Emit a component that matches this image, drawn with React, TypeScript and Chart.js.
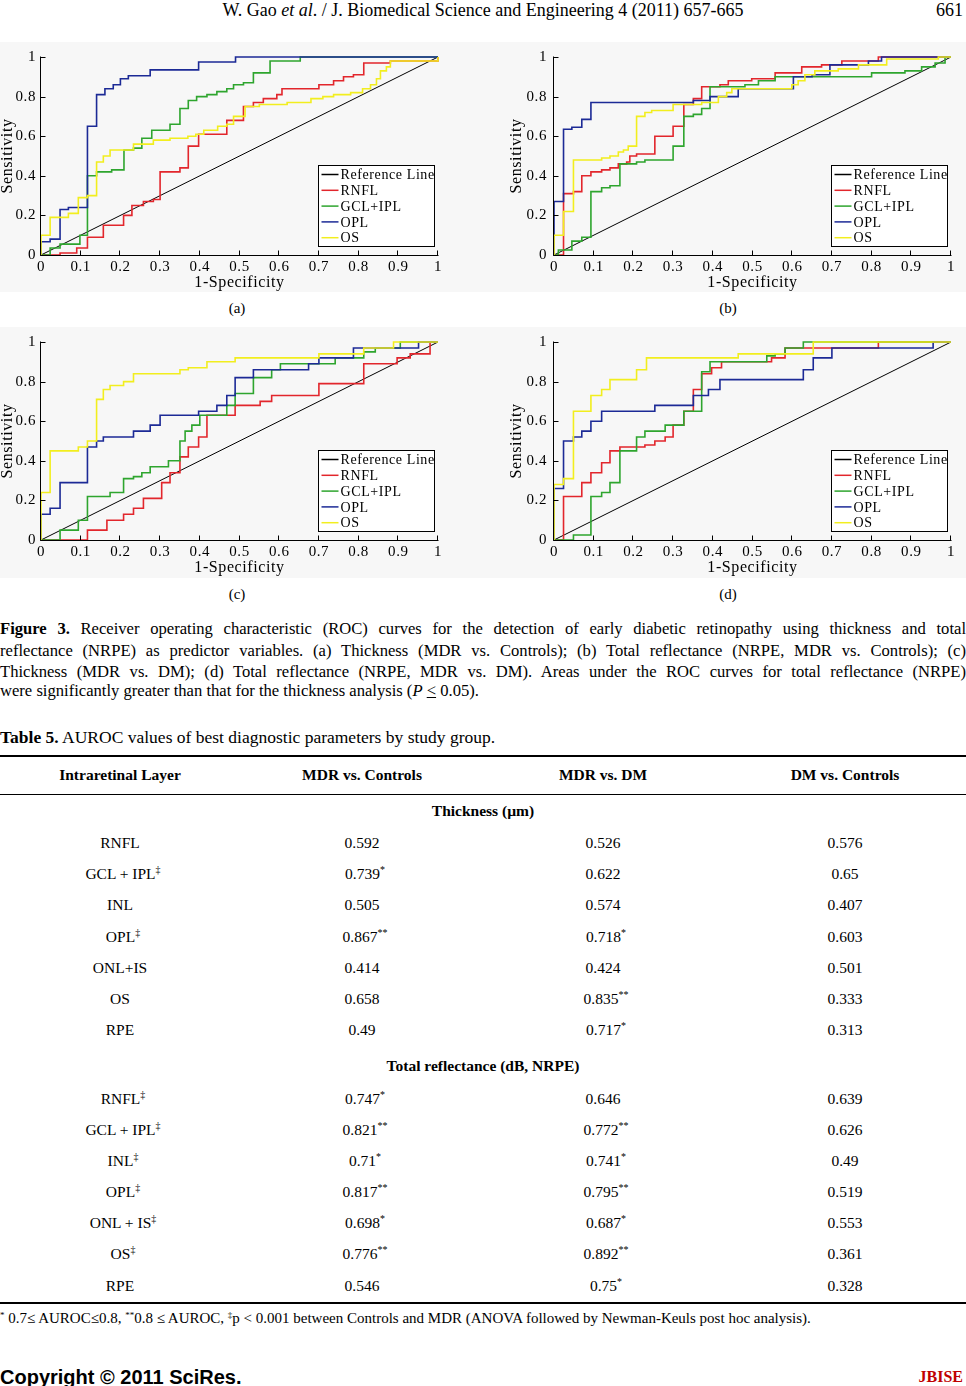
import React, { useEffect, useRef } from 'react';
import { Chart, registerables } from 'chart.js';

Chart.register(...registerables);

// ---------- chart data ----------
const SERIES_NAMES = ['Reference Line', 'RNFL', 'GCL+IPL', 'OPL', 'OS'];
const SERIES_COLORS = ['#000000', '#e2262c', '#2ea52e', '#1c2a96', '#f2ee1e'];
const X_TICK_LABELS = ['0', '0.1', '0.2', '0.3', '0.4', '0.5', '0.6', '0.7', '0.8', '0.9', '1'];
const Y_TICK_LABELS = ['0', '0.2', '0.4', '0.6', '0.8', '1'];
const X_TITLE = '1-Specificity';
const Y_TITLE = 'Sensitivity';

const REF_FPR = [0, 1];
const REF_TPR = [0, 1];

// (a) Thickness, MDR vs. Controls
const A_RNFL_FPR = [0, 0.048, 0.09, 0.117, 0.157, 0.208, 0.229, 0.258, 0.283, 0.3, 0.35, 0.371, 0.397, 0.468, 0.51, 0.535, 0.56, 0.594, 0.607, 0.7, 0.737, 0.762, 0.787, 0.813, 0.88, 1];
const A_RNFL_TPR = [0, 0.01, 0.035, 0.09, 0.15, 0.2, 0.25, 0.27, 0.28, 0.42, 0.44, 0.55, 0.61, 0.68, 0.75, 0.77, 0.79, 0.81, 0.84, 0.86, 0.88, 0.9, 0.91, 0.97, 0.98, 1];
const A_GCL_FPR = [0, 0.023, 0.048, 0.098, 0.117, 0.14, 0.178, 0.209, 0.233, 0.254, 0.279, 0.325, 0.35, 0.371, 0.392, 0.418, 0.443, 0.468, 0.485, 0.51, 0.535, 0.577, 0.653, 1];
const A_GCL_TPR = [0, 0.035, 0.055, 0.1, 0.4, 0.42, 0.43, 0.53, 0.54, 0.59, 0.63, 0.66, 0.74, 0.78, 0.8, 0.81, 0.825, 0.84, 0.86, 0.87, 0.92, 0.98, 1, 1];
const A_OPL_FPR = [0, 0, 0.023, 0.048, 0.069, 0.117, 0.14, 0.161, 0.182, 0.2, 0.22, 0.275, 0.397, 0.49, 1];
const A_OPL_TPR = [0, 0.067, 0.08, 0.23, 0.24, 0.65, 0.81, 0.84, 0.86, 0.89, 0.905, 0.935, 0.975, 1, 1];
const A_OS_FPR = [0, 0, 0.023, 0.069, 0.094, 0.117, 0.14, 0.157, 0.174, 0.233, 0.283, 0.325, 0.37, 0.39, 0.41, 0.445, 0.468, 0.485, 0.514, 0.55, 0.62, 0.68, 0.71, 0.737, 0.78, 0.81, 0.83, 0.845, 0.855, 0.87, 0.88, 1];
const A_OS_TPR = [0, 0.1, 0.19, 0.21, 0.29, 0.3, 0.47, 0.5, 0.53, 0.56, 0.58, 0.59, 0.6, 0.61, 0.63, 0.65, 0.66, 0.7, 0.75, 0.76, 0.77, 0.79, 0.8, 0.81, 0.82, 0.84, 0.86, 0.89, 0.93, 0.95, 0.98, 1];

// (b) Total reflectance, MDR vs. Controls
const B_RNFL_FPR = [0, 0.024, 0.049, 0.07, 0.093, 0.12, 0.141, 0.162, 0.183, 0.191, 0.208, 0.254, 0.3, 0.327, 0.351, 0.372, 0.418, 0.439, 0.498, 0.557, 0.624, 0.674, 0.725, 0.817, 1];
const B_RNFL_TPR = [0, 0.31, 0.32, 0.4, 0.42, 0.43, 0.44, 0.46, 0.47, 0.5, 0.51, 0.6, 0.65, 0.76, 0.79, 0.85, 0.86, 0.88, 0.89, 0.92, 0.95, 0.96, 0.98, 1, 1];
const B_GCL_FPR = [0, 0.011, 0.045, 0.07, 0.093, 0.12, 0.141, 0.166, 0.208, 0.229, 0.3, 0.327, 0.351, 0.372, 0.393, 0.481, 0.515, 0.557, 0.8, 0.884, 0.926, 0.96, 0.985, 1];
const B_GCL_TPR = [0, 0.025, 0.07, 0.09, 0.32, 0.34, 0.35, 0.46, 0.47, 0.48, 0.55, 0.7, 0.71, 0.74, 0.85, 0.86, 0.88, 0.9, 0.92, 0.93, 0.95, 0.97, 1, 1];
const B_OPL_FPR = [0, 0, 0.024, 0.045, 0.07, 0.093, 0.351, 0.393, 0.464, 0.603, 0.65, 0.695, 0.792, 0.825, 1];
const B_OPL_TPR = [0, 0.27, 0.635, 0.645, 0.685, 0.77, 0.78, 0.8, 0.84, 0.9, 0.91, 0.96, 0.98, 1, 1];
const B_OS_FPR = [0, 0, 0.024, 0.049, 0.12, 0.141, 0.162, 0.175, 0.187, 0.208, 0.229, 0.246, 0.3, 0.372, 0.414, 0.435, 0.448, 0.599, 0.615, 0.632, 0.657, 0.716, 0.767, 0.838, 0.968, 1];
const B_OS_TPR = [0, 0.1, 0.22, 0.48, 0.49, 0.5, 0.52, 0.53, 0.55, 0.7, 0.72, 0.73, 0.76, 0.77, 0.8, 0.82, 0.84, 0.86, 0.88, 0.91, 0.93, 0.94, 0.96, 0.99, 1, 1];

// (c) Thickness, MDR vs. DM
const C_RNFL_FPR = [0, 0.117, 0.166, 0.208, 0.233, 0.258, 0.304, 0.325, 0.35, 0.371, 0.397, 0.418, 0.489, 0.552, 0.581, 0.7, 0.813, 0.897, 0.93, 0.98, 1];
const C_RNFL_TPR = [0, 0.05, 0.1, 0.13, 0.16, 0.21, 0.29, 0.34, 0.42, 0.47, 0.52, 0.63, 0.68, 0.7, 0.73, 0.79, 0.89, 0.92, 0.94, 1, 1];
const C_GCL_FPR = [0, 0.048, 0.094, 0.117, 0.174, 0.208, 0.233, 0.254, 0.275, 0.321, 0.35, 0.363, 0.38, 0.4, 0.468, 0.489, 0.535, 0.581, 0.603, 0.741, 0.813, 0.842, 0.905, 1];
const C_GCL_TPR = [0, 0.05, 0.1, 0.22, 0.24, 0.31, 0.32, 0.34, 0.37, 0.4, 0.5, 0.55, 0.58, 0.63, 0.68, 0.74, 0.82, 0.86, 0.89, 0.92, 0.95, 0.97, 1, 1];
const C_OPL_FPR = [0, 0, 0.023, 0.048, 0.117, 0.14, 0.157, 0.233, 0.275, 0.3, 0.397, 0.443, 0.468, 0.489, 0.535, 0.674, 0.7, 0.787, 0.951, 1];
const C_OPL_TPR = [0, 0.13, 0.16, 0.29, 0.47, 0.5, 0.52, 0.55, 0.58, 0.63, 0.65, 0.68, 0.73, 0.82, 0.86, 0.89, 0.92, 0.97, 1, 1];
const C_OS_FPR = [0, 0, 0.023, 0.094, 0.117, 0.14, 0.157, 0.174, 0.208, 0.233, 0.35, 0.371, 0.418, 0.489, 0.7, 0.813, 0.888, 1];
const C_OS_TPR = [0, 0.24, 0.45, 0.47, 0.5, 0.71, 0.76, 0.78, 0.8, 0.84, 0.86, 0.87, 0.9, 0.92, 0.94, 0.97, 1, 1];

// (d) Total reflectance, MDR vs. DM
const D_RNFL_FPR = [0, 0.024, 0.07, 0.093, 0.12, 0.141, 0.166, 0.229, 0.254, 0.28, 0.3, 0.327, 0.351, 0.372, 0.397, 0.422, 0.548, 0.582, 0.817, 1];
const D_RNFL_TPR = [0, 0.22, 0.29, 0.34, 0.39, 0.45, 0.47, 0.48, 0.5, 0.52, 0.58, 0.65, 0.76, 0.84, 0.87, 0.9, 0.92, 0.97, 1, 1];
const D_GCL_FPR = [0, 0.049, 0.093, 0.12, 0.141, 0.166, 0.208, 0.229, 0.28, 0.327, 0.372, 0.393, 0.536, 0.557, 0.582, 0.628, 1];
const D_GCL_TPR = [0, 0.025, 0.22, 0.24, 0.29, 0.45, 0.52, 0.55, 0.58, 0.65, 0.85, 0.9, 0.93, 0.94, 0.97, 1, 1];
const D_OPL_FPR = [0, 0, 0.024, 0.049, 0.07, 0.093, 0.12, 0.254, 0.351, 0.389, 0.418, 0.628, 0.653, 0.7, 0.955, 1];
const D_OPL_TPR = [0, 0.26, 0.5, 0.52, 0.55, 0.6, 0.65, 0.68, 0.73, 0.76, 0.81, 0.86, 0.92, 0.97, 1, 1];
const D_OS_FPR = [0, 0, 0.024, 0.049, 0.093, 0.12, 0.141, 0.208, 0.233, 0.464, 0.653, 1];
const D_OS_TPR = [0, 0.28, 0.31, 0.65, 0.73, 0.76, 0.81, 0.86, 0.92, 0.94, 1, 1];

// ---------- table data ----------
const TABLE_HEADERS = ['Intraretinal Layer', 'MDR vs. Controls', 'MDR vs. DM', 'DM vs. Controls'];
const THICK_TITLE = 'Thickness (µm)';
const THICK_LAYERS = ['RNFL', 'GCL + IPL‡', 'INL', 'OPL‡', 'ONL+IS', 'OS', 'RPE'];
const THICK_MDR_CTRL = ['0.592', '0.739*', '0.505', '0.867**', '0.414', '0.658', '0.49'];
const THICK_MDR_DM = ['0.526', '0.622', '0.574', '0.718*', '0.424', '0.835**', '0.717*'];
const THICK_DM_CTRL = ['0.576', '0.65', '0.407', '0.603', '0.501', '0.333', '0.313'];
const REFL_TITLE = 'Total reflectance (dB, NRPE)';
const REFL_LAYERS = ['RNFL‡', 'GCL + IPL‡', 'INL‡', 'OPL‡', 'ONL + IS‡', 'OS‡', 'RPE'];
const REFL_MDR_CTRL = ['0.747*', '0.821**', '0.71*', '0.817**', '0.698*', '0.776**', '0.546'];
const REFL_MDR_DM = ['0.646', '0.772**', '0.741*', '0.795**', '0.687*', '0.892**', '0.75*'];
const REFL_DM_CTRL = ['0.639', '0.626', '0.49', '0.519', '0.553', '0.361', '0.328'];

const SERIF = '"Liberation Serif", "Times New Roman", serif';
const SANS = '"Liberation Sans", Arial, sans-serif';

type Curve = { fpr: number[]; tpr: number[] };

const decorPlugin = {
  id: 'rocDecor',
  beforeDraw(chart: any) {
    try { chart.ctx.letterSpacing = '0.6px'; } catch (e) {}
  },
  afterDatasetsDraw(chart: any) {
    const { ctx, chartArea: ca, scales } = chart;
    const xs = scales.x;
    const ys = scales.y;
    ctx.save();
    ctx.strokeStyle = '#000';
    ctx.lineWidth = 1;
    ctx.beginPath();
    const bx = Math.round(ca.bottom) + 0.5;
    const lx = Math.round(ca.left) - 0.5;
    ctx.moveTo(lx, bx);
    ctx.lineTo(ca.right + 0.5, bx);
    ctx.moveTo(lx, bx);
    ctx.lineTo(lx, ca.top - 0.5);
    xs.ticks.forEach((t: any) => {
      const px = Math.round(xs.getPixelForValue(t.value)) - 0.5;
      ctx.moveTo(px, bx);
      ctx.lineTo(px, bx - 5);
    });
    ys.ticks.forEach((t: any) => {
      const py = Math.round(ys.getPixelForValue(t.value)) + 0.5;
      ctx.moveTo(lx, py);
      ctx.lineTo(lx + 5, py);
    });
    ctx.stroke();

    // legend box inside the plot
    const bw = 116;
    const bh = 81;
    const x0 = Math.round(ca.right - 4 - bw) + 0.5;
    const y0 = Math.round(ca.bottom - 9 - bh) + 0.5;
    ctx.fillStyle = '#ffffff';
    ctx.fillRect(x0, y0, bw, bh);
    ctx.strokeStyle = '#000';
    ctx.lineWidth = 1;
    ctx.strokeRect(x0, y0, bw, bh);
    ctx.font = `14px ${SERIF}`;
    ctx.textBaseline = 'middle';
    ctx.textAlign = 'left';
    chart.data.datasets.forEach((ds: any, i: number) => {
      const cy = y0 + 9 + i * 15.8;
      ctx.strokeStyle = ds.borderColor;
      ctx.lineWidth = 1.5;
      ctx.beginPath();
      ctx.moveTo(x0 + 3, cy);
      ctx.lineTo(x0 + 20, cy);
      ctx.stroke();
      ctx.fillStyle = '#000';
      ctx.fillText(ds.label, x0 + 22, cy + 1);
    });
    ctx.restore();
  },
};

function RocChart(props: { curves: Curve[]; left: number; top: number; width: number; height: number; axisW: number; plotRight: number; tickPad: number; yTitlePad: number }) {
  const ref = useRef<HTMLCanvasElement>(null);
  const { curves, left, top, width, height, axisW, plotRight, tickPad, yTitlePad } = props;
  useEffect(() => {
    const datasets = curves.map((c, i) => ({
      label: SERIES_NAMES[i],
      data: c.fpr.map((x, j) => ({ x, y: c.tpr[j] })),
      borderColor: SERIES_COLORS[i],
      backgroundColor: SERIES_COLORS[i],
      borderWidth: i === 0 ? 1 : 1.6,
      pointRadius: 0,
      pointHoverRadius: 0,
      stepped: i === 0 ? false : ('before' as const),
      fill: false,
      clip: false as any,
      order: 5 - i,
    }));
    const chart = new Chart(ref.current as HTMLCanvasElement, {
      type: 'line',
      data: { datasets },
      plugins: [decorPlugin],
      options: {
        animation: false,
        responsive: false,
        maintainAspectRatio: false,
        events: [],
        layout: { padding: { left: 0, right: width - plotRight, top: 17, bottom: 0 } },
        plugins: { legend: { display: false }, tooltip: { enabled: false } },
        scales: {
          x: {
            type: 'linear',
            min: 0,
            max: 1,
            afterFit: (s: any) => { s.height = 40; },
            grid: { display: false, drawTicks: false },
            border: { display: false },
            ticks: {
              stepSize: 0.1,
              autoSkip: false,
              maxRotation: 0,
              padding: 3,
              color: '#000',
              font: { family: SERIF, size: 15 },
              callback: (_v: any, i: number) => X_TICK_LABELS[i],
            },
            title: {
              display: true,
              text: X_TITLE,
              color: '#000',
              font: { family: SERIF, size: 16, lineHeight: 1 },
              padding: { top: 0, bottom: 4 },
            },
          },
          y: {
            type: 'linear',
            min: 0,
            max: 1,
            afterFit: (s: any) => { s.width = axisW; },
            grid: { display: false, drawTicks: false },
            border: { display: false },
            ticks: {
              stepSize: 0.2,
              autoSkip: false,
              padding: tickPad,
              color: '#000',
              font: { family: SERIF, size: 15 },
              callback: (_v: any, i: number) => Y_TICK_LABELS[i],
            },
            title: {
              display: true,
              text: Y_TITLE,
              color: '#000',
              font: { family: SERIF, size: 16, lineHeight: 1 },
              padding: { top: yTitlePad, bottom: 0 },
            },
          },
        },
      } as any,
    });
    return () => chart.destroy();
  }, []);
  return (
    <canvas
      ref={ref}
      width={width}
      height={height}
      style={{ position: 'absolute', left, top, width, height }}
    />
  );
}

function splitMark(s: string): [string, string] {
  const m = s.match(/^(.*?)([*‡]*)$/);
  return m ? [m[1], m[2]] : [s, ''];
}

function Cell(props: { text: string; cx: number; cy: number; bold?: boolean; size?: number }) {
  const [main, mark] = splitMark(props.text);
  const size = props.size || 15;
  return (
    <div
      style={{
        position: 'absolute',
        left: props.cx - 150,
        width: 300,
        top: props.cy - 10,
        height: 20,
        lineHeight: '20px',
        textAlign: 'center',
        fontSize: size,
        fontWeight: props.bold ? 'bold' : 'normal',
        whiteSpace: 'nowrap',
      }}
    >
      {main}
      {mark ? (
        <span style={{ fontSize: 10, position: 'relative', top: -6, marginRight: -6 }}>{mark}</span>
      ) : null}
    </div>
  );
}

function Line(props: { cy: number; children: any; size?: number; left?: number; width?: number; align?: any; style?: any }) {
  const size = props.size || 15;
  return (
    <div
      style={{
        position: 'absolute',
        left: props.left || 0,
        width: props.width || 966,
        top: props.cy - 11,
        height: 22,
        lineHeight: '22px',
        fontSize: size,
        textAlign: props.align || 'left',
        textAlignLast: props.align || 'left',
        whiteSpace: 'nowrap',
        ...(props.style || {}),
      }}
    >
      {props.children}
    </div>
  );
}

export default function App() {
  useEffect(() => {
    document.body.style.margin = '0';
  }, []);

  const panelA: Curve[] = [
    { fpr: REF_FPR, tpr: REF_TPR },
    { fpr: A_RNFL_FPR, tpr: A_RNFL_TPR },
    { fpr: A_GCL_FPR, tpr: A_GCL_TPR },
    { fpr: A_OPL_FPR, tpr: A_OPL_TPR },
    { fpr: A_OS_FPR, tpr: A_OS_TPR },
  ];
  const panelB: Curve[] = [
    { fpr: REF_FPR, tpr: REF_TPR },
    { fpr: B_RNFL_FPR, tpr: B_RNFL_TPR },
    { fpr: B_GCL_FPR, tpr: B_GCL_TPR },
    { fpr: B_OPL_FPR, tpr: B_OPL_TPR },
    { fpr: B_OS_FPR, tpr: B_OS_TPR },
  ];
  const panelC: Curve[] = [
    { fpr: REF_FPR, tpr: REF_TPR },
    { fpr: C_RNFL_FPR, tpr: C_RNFL_TPR },
    { fpr: C_GCL_FPR, tpr: C_GCL_TPR },
    { fpr: C_OPL_FPR, tpr: C_OPL_TPR },
    { fpr: C_OS_FPR, tpr: C_OS_TPR },
  ];
  const panelD: Curve[] = [
    { fpr: REF_FPR, tpr: REF_TPR },
    { fpr: D_RNFL_FPR, tpr: D_RNFL_TPR },
    { fpr: D_GCL_FPR, tpr: D_GCL_TPR },
    { fpr: D_OPL_FPR, tpr: D_OPL_TPR },
    { fpr: D_OS_FPR, tpr: D_OS_TPR },
  ];

  const colCenters = [120, 362, 603, 845];
  const thickRowsY = [843, 874, 905, 937, 968, 999, 1030];
  const reflRowsY = [1099, 1130, 1161, 1192, 1223, 1254, 1286];
  const TS = 15.5;

  return (
    <div
      style={{
        position: 'absolute',
        left: 0,
        top: 0,
        width: 966,
        height: 1386,
        background: '#ffffff',
        fontFamily: SERIF,
        color: '#000',
        overflow: 'hidden',
      }}
    >
      {/* running header */}
      <Line cy={10} size={18} align="center">
        W. Gao <i>et al</i>. / J. Biomedical Science and Engineering 4 (2011) 657-665
      </Line>
      <Line cy={10} size={18} align="right" left={0} width={963}>661</Line>

      {/* figure panels background */}
      <div style={{ position: 'absolute', left: 0, top: 42, width: 966, height: 250, background: '#f7f7f7' }} />
      <div style={{ position: 'absolute', left: 0, top: 327, width: 966, height: 251, background: '#f7f7f7' }} />

      <RocChart curves={panelA} left={0} top={40} width={452} height={255} axisW={41} plotRight={438} tickPad={5} yTitlePad={0} />
      <RocChart curves={panelB} left={505} top={40} width={461} height={255} axisW={49} plotRight={446} tickPad={7} yTitlePad={4} />
      <RocChart curves={panelC} left={0} top={325} width={452} height={255} axisW={41} plotRight={438} tickPad={5} yTitlePad={0} />
      <RocChart curves={panelD} left={505} top={325} width={461} height={255} axisW={49} plotRight={446} tickPad={7} yTitlePad={4} />

      <Line cy={308} size={15} align="center" left={187} width={100}>(a)</Line>
      <Line cy={308} size={15} align="center" left={678} width={100}>(b)</Line>
      <Line cy={594} size={15} align="center" left={187} width={100}>(c)</Line>
      <Line cy={594} size={15} align="center" left={678} width={100}>(d)</Line>

      {/* caption */}
      <Line cy={629} size={16.6} align="justify">
        <b>Figure 3.</b> Receiver operating characteristic (ROC) curves for the detection of early diabetic retinopathy using thickness and total
      </Line>
      <Line cy={651} size={16.6} align="justify">
        reflectance (NRPE) as predictor variables. (a) Thickness (MDR vs. Controls); (b) Total reflectance (NRPE, MDR vs. Controls); (c)
      </Line>
      <Line cy={672} size={16.6} align="justify">
        Thickness (MDR vs. DM); (d) Total reflectance (NRPE, MDR vs. DM). Areas under the ROC curves for total reflectance (NRPE)
      </Line>
      <Line cy={691} size={16.6}>
        were significantly greater than that for the thickness analysis (<i>P</i> <u>&lt;</u> 0.05).
      </Line>

      <Line cy={737} size={17.5}>
        <b>Table 5.</b> AUROC values of best diagnostic parameters by study group.
      </Line>

      {/* table */}
      <div style={{ position: 'absolute', left: 0, top: 755, width: 966, height: 1.5, background: '#000' }} />
      {TABLE_HEADERS.map((h, i) => (
        <Cell key={'h' + i} text={h} cx={colCenters[i]} cy={775} bold size={TS} />
      ))}
      <div style={{ position: 'absolute', left: 0, top: 794, width: 966, height: 1, background: '#000' }} />

      <Cell text={THICK_TITLE} cx={483} cy={811} bold size={TS} />
      {THICK_LAYERS.map((l, i) => (
        <React.Fragment key={'t' + i}>
          <Cell text={l} cx={colCenters[0]} cy={thickRowsY[i]} size={TS} />
          <Cell text={THICK_MDR_CTRL[i]} cx={colCenters[1]} cy={thickRowsY[i]} size={TS} />
          <Cell text={THICK_MDR_DM[i]} cx={colCenters[2]} cy={thickRowsY[i]} size={TS} />
          <Cell text={THICK_DM_CTRL[i]} cx={colCenters[3]} cy={thickRowsY[i]} size={TS} />
        </React.Fragment>
      ))}

      <Cell text={REFL_TITLE} cx={483} cy={1066} bold size={TS} />
      {REFL_LAYERS.map((l, i) => (
        <React.Fragment key={'r' + i}>
          <Cell text={l} cx={colCenters[0]} cy={reflRowsY[i]} size={TS} />
          <Cell text={REFL_MDR_CTRL[i]} cx={colCenters[1]} cy={reflRowsY[i]} size={TS} />
          <Cell text={REFL_MDR_DM[i]} cx={colCenters[2]} cy={reflRowsY[i]} size={TS} />
          <Cell text={REFL_DM_CTRL[i]} cx={colCenters[3]} cy={reflRowsY[i]} size={TS} />
        </React.Fragment>
      ))}

      <div style={{ position: 'absolute', left: 0, top: 1302, width: 966, height: 1.5, background: '#000' }} />

      <Line cy={1318} size={15}>
        <span style={{ fontSize: 9, position: 'relative', top: -5 }}>*</span> 0.7≤ AUROC≤0.8,{' '}
        <span style={{ fontSize: 9, position: 'relative', top: -5 }}>**</span>0.8 ≤ AUROC,{' '}
        <span style={{ fontSize: 9, position: 'relative', top: -5 }}>‡</span>p &lt; 0.001 between Controls and MDR (ANOVA followed by Newman-Keuls post hoc analysis).
      </Line>

      <Line cy={1377} size={20} style={{ fontFamily: SANS, fontWeight: 'bold' }}>
        Copyright © 2011 SciRes.
      </Line>
      <Line cy={1377} size={16} align="right" left={0} width={963} style={{ fontWeight: 'bold', color: '#c00000' }}>
        JBISE
      </Line>
    </div>
  );
}
